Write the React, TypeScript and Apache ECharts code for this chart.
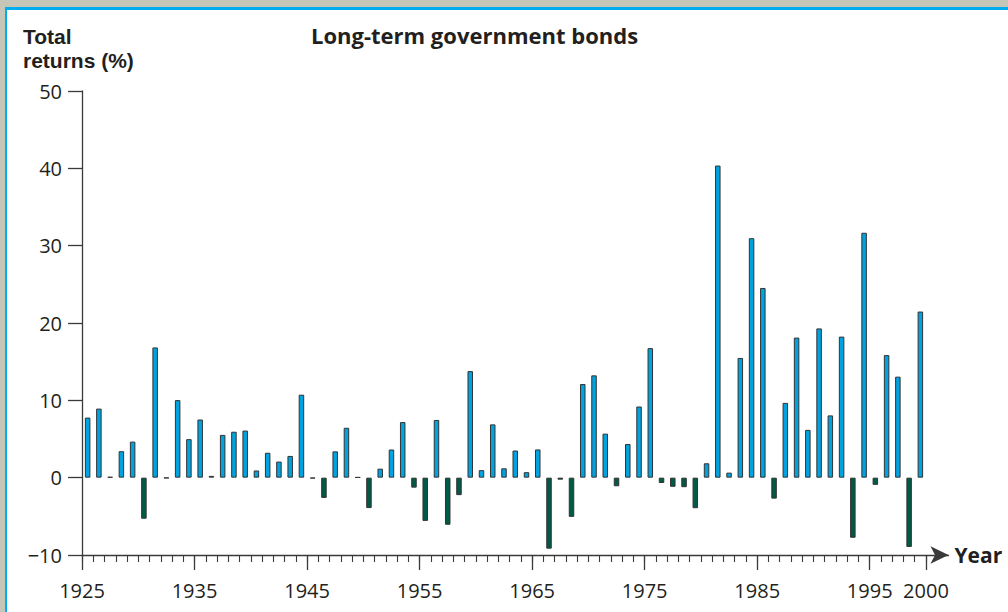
import React, { useEffect, useRef } from 'react';
import * as echarts from 'echarts';

const years = [
  1926, 1927, 1928, 1929, 1930, 1931, 1932, 1933, 1934, 1935,
  1936, 1937, 1938, 1939, 1940, 1941, 1942, 1943, 1944, 1945,
  1946, 1947, 1948, 1949, 1950, 1951, 1952, 1953, 1954, 1955,
  1956, 1957, 1958, 1959, 1960, 1961, 1962, 1963, 1964, 1965,
  1966, 1967, 1968, 1969, 1970, 1971, 1972, 1973, 1974, 1975,
  1976, 1977, 1978, 1979, 1980, 1981, 1982, 1983, 1984, 1985,
  1986, 1987, 1988, 1989, 1990, 1991, 1992, 1993, 1994, 1995,
  1996, 1997, 1998, 1999, 2000,
];

const returns = [
  7.77, 8.93, 0.1, 3.42, 4.66, -5.31, 16.84, -0.07, 10.03, 4.98,
  7.52, 0.23, 5.53, 5.94, 6.09, 0.93, 3.22, 2.08, 2.81, 10.73,
  -0.1, -2.62, 3.4, 6.45, 0.06, -3.93, 1.16, 3.64, 7.19, -1.29,
  -5.59, 7.46, -6.09, -2.26, 13.78, 0.97, 6.89, 1.21, 3.51, 0.71,
  3.65, -9.18, -0.26, -5.07, 12.11, 13.23, 5.69, -1.11, 4.35, 9.2,
  16.75, -0.69, -1.18, -1.23, -3.95, 1.86, 40.36, 0.65, 15.48, 30.97,
  24.53, -2.71, 9.67, 18.11, 6.18, 19.3, 8.05, 18.24, -7.77, 31.67,
  -0.93, 15.85, 13.06, -8.96, 21.48,
];

const xLabelTicks = [1925, 1935, 1945, 1955, 1965, 1975, 1985, 1995, 2000];
const xMinorTicks = Array.from({ length: 76 }, (_, i) => 1925 + i);

const TEXT = '#231f20';
const AXIS = '#3a3a3a';
const BLUE = '#00a3e0';
const GREEN = '#005a46';
const FONT = '"Open Sans", "Noto Sans", sans-serif';
const TIGHT_FONT = '"Liberation Sans", Arial, sans-serif';

export default function App() {
  const ref = useRef<HTMLDivElement>(null);

  useEffect(() => {
    if (!ref.current) return;
    const chart = echarts.init(ref.current, null, { renderer: 'svg' });
    const data = years.map((y, i) => [y - 0.5, returns[i]]);

    chart.setOption({
      animation: false,
      backgroundColor: '#ffffff',
      textStyle: { fontFamily: FONT },
      grid: { left: 82, top: 91, right: 59.5, bottom: 57, containLabel: false },
      graphic: [
        { type: 'rect', shape: { x: 0, y: 0, width: 1008, height: 8 }, style: { fill: '#c5c5b8' }, silent: true },
        { type: 'rect', shape: { x: 0, y: 0, width: 5, height: 612 }, style: { fill: '#c5c5b8' }, silent: true },
        { type: 'rect', shape: { x: 5, y: 7, width: 1003, height: 3 }, style: { fill: '#00aeef' }, silent: true },
        { type: 'rect', shape: { x: 5, y: 7, width: 2, height: 605 }, style: { fill: '#00aeef' }, silent: true },
        {
          type: 'text', left: 23, top: 26,
          style: { text: 'Total', font: `bold 21px ${TIGHT_FONT}`, fill: TEXT },
        },
        {
          type: 'text', left: 23, top: 50,
          style: { text: 'returns (%)', font: `bold 21px ${TIGHT_FONT}`, fill: TEXT },
        },
        {
          type: 'text', left: 311, top: 24,
          style: { text: 'Long-term government bonds', font: `bold 22px ${FONT}`, fill: TEXT },
        },
      ],
      xAxis: [
        {
          type: 'value',
          min: 1925,
          max: 2002,
          name: 'Year',
          nameLocation: 'end',
          nameGap: 6,
          nameTextStyle: { fontSize: 21, fontWeight: 'bold', color: TEXT, fontFamily: FONT },
          axisLine: {
            show: true,
            onZero: false,
            symbol: ['none', 'arrow'],
            symbolSize: [13, 18],
            lineStyle: { color: AXIS, width: 1.3 },
          },
          axisTick: { show: true, length: 15, customValues: xLabelTicks, lineStyle: { color: AXIS, width: 1.3 } },
          axisLabel: {
            show: true,
            customValues: xLabelTicks,
            margin: 25,
            fontSize: 20,
            color: TEXT,
            fontFamily: FONT,
            formatter: (v: number) => String(v),
          },
          splitLine: { show: false },
        },
        {
          type: 'value',
          min: 1925,
          max: 2002,
          position: 'bottom',
          axisLine: { show: false, onZero: false },
          axisTick: { show: true, length: 7, customValues: xMinorTicks, lineStyle: { color: AXIS, width: 1.1 } },
          axisLabel: { show: false },
          splitLine: { show: false },
        },
      ],
      yAxis: {
        type: 'value',
        min: -10,
        max: 50,
        interval: 10,
        axisLine: { show: true, onZero: false, lineStyle: { color: AXIS, width: 1.3 } },
        axisTick: { show: true, length: 14, lineStyle: { color: AXIS, width: 1.3 } },
        axisLabel: {
          margin: 20,
          fontSize: 20,
          color: TEXT,
          fontFamily: FONT,
          formatter: (v: number) => (v < 0 ? '\u2212' + Math.abs(v) : String(v)),
        },
        splitLine: { show: false },
      },
      series: [
        {
          type: 'bar',
          xAxisIndex: 0,
          data,
          barWidth: 5.5,
          itemStyle: {
            color: (p: any) => (p.value[1] >= 0 ? BLUE : GREEN),
            borderColor: '#333333',
            borderWidth: 1,
          },
        },
      ],
    });

    return () => chart.dispose();
  }, []);

  return (
    <div
      ref={ref}
      style={{ position: 'fixed', left: 0, top: 0, width: 1008, height: 612, background: '#fff' }}
    />
  );
}
